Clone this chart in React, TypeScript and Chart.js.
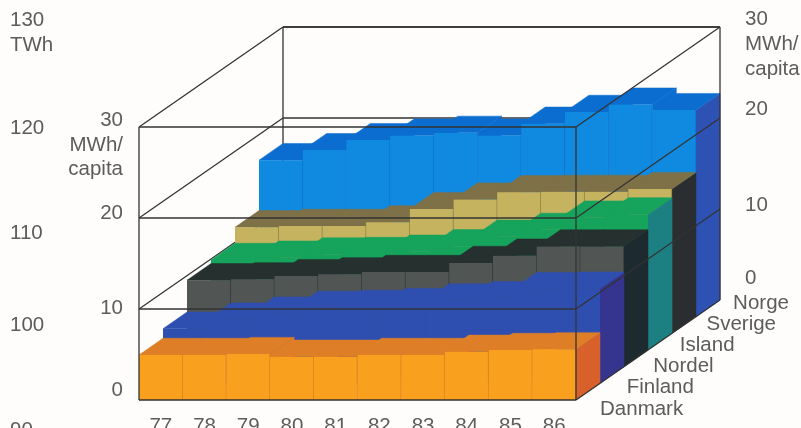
import React, { useEffect, useRef } from "react";
import { Chart, registerables } from "chart.js";

Chart.register(...registerables);

const years = ["77", "78", "79", "80", "81", "82", "83", "84", "85", "86"];

// MWh per capita. Front row first.
const danmark = [4.95, 4.95, 5.05, 4.75, 4.75, 4.95, 4.95, 5.3, 5.5, 5.57];
const finland = [6.0, 7.0, 7.65, 8.3, 8.4, 8.6, 9.1, 9.35, 10.35, 10.4];
const nordel = [9.5, 9.6, 9.95, 10.15, 10.4, 10.4, 11.4, 12.2, 13.2, 13.2];
const island = [9.9, 10.15, 10.5, 10.55, 10.8, 11.4, 12.45, 13.2, 14.55, 14.9];
const sverige = [11.66, 11.8, 11.8, 12.2, 13.65, 14.7, 15.5, 15.55, 15.55, 15.85];
const norge = [17.2, 18.3, 19.4, 19.9, 20.2, 19.9, 21.2, 22.5, 23.3, 22.7];

const seriesNames = ["Danmark", "Finland", "Nordel", "Island", "Sverige", "Norge"];
const seriesValues = [danmark, finland, nordel, island, sverige, norge];
const frontColors = ["#f9a11f", "#2f4fb0", "#515554", "#16a35c", "#c6b35f", "#0f8ae0"];
const edgeColors = ["#d9801c", "#2f4fb0", "#333a3a", "#16a35c", "#8f8240", "#0b74cc"];
const topColors = ["#de7f28", "#2f4fb0", "#25302f", "#16a35c", "#7e7047", "#0a6dcf"];
const sideColors = ["#d8602a", "#35348e", "#1d2a30", "#1c7f82", "#2b2e30", "#2e52b4"];

// Printed scales. The scan's labels sit unevenly, so each has its own read-off spot.
const twhLabels: (string | string[])[] = [["130", "TWh"], "120", "110", "100", "90"];
const twhSpots = [130, 120.4, 109.8, 100.5, 90];
const frontLabels: (string | string[])[] = ["0", "10", "20", ["30", "MWh/", "capita"]];
const frontSpots = [1.1, 10.1, 20.55, 28.0];
const backLabels: (string | string[])[] = ["0", "10", "20", ["30", "MWh/", "capita"]];
const backSpots = [2.4, 10.4, 20.9, 28.1];

const FONT = { family: "'Liberation Sans', Arial, sans-serif", size: 20.5 };
const INK = "#5c5c5c";
const LINE = "#333333";

// View geometry
const BAR_PX = 43.7;
const UNIT_PX = 9.1;
const AREA_W = 740;
const AREA_H = 412;
const LEFT_PX = 139;
const FLOOR_PX = 400;
const DEPTH_X = 24 / BAR_PX; // one row of depth, in x units
const DEPTH_Y = 16.67 / UNIT_PX; // one row of depth, in y units
const ROWS = seriesNames.length;
const BOX_TOP = 30;

const fitWidth = (w: number) => (s: any) => {
  s.width = w;
  s.paddingLeft = s.paddingRight = s.paddingTop = s.paddingBottom = 0;
};
const fitHeight = (h: number) => (s: any) => {
  s.height = h;
  s.paddingLeft = s.paddingRight = s.paddingTop = s.paddingBottom = 0;
};

const polygon = (ctx: CanvasRenderingContext2D, pts: number[][], color: string) => {
  ctx.beginPath();
  pts.forEach((p, i) => (i ? ctx.lineTo(p[0], p[1]) : ctx.moveTo(p[0], p[1])));
  ctx.closePath();
  ctx.fillStyle = color;
  ctx.strokeStyle = color;
  ctx.lineWidth = 0.5;
  ctx.fill();
  ctx.stroke();
};

const facesPlugin = {
  id: "faces",
  beforeDatasetDraw(chart: any, args: any) {
    const row = args.index;
    const values = seriesValues[row];
    const { x, y } = chart.scales;
    const ctx = chart.ctx;
    const base = row * DEPTH_Y;
    const yb = y.getPixelForValue(base);
    const dyp = yb - y.getPixelForValue(base + DEPTH_Y);
    const dxp = x.getPixelForValue(DEPTH_X) - x.getPixelForValue(0);
    ctx.save();
    values.forEach((v, i) => {
      const xl = x.getPixelForValue(i + row * DEPTH_X);
      const xr = x.getPixelForValue(i + 1 + row * DEPTH_X);
      const yt = y.getPixelForValue(base + v);
      // only the last bar's end wall takes the side colour; inner risers read as top
      const wall = i === values.length - 1 ? sideColors[row] : topColors[row];
      polygon(ctx, [[xr, yt], [xr + dxp, yt - dyp], [xr + dxp, yb - dyp], [xr, yb]], wall);
      polygon(ctx, [[xl, yt], [xr, yt], [xr + dxp, yt - dyp], [xl + dxp, yt - dyp]], topColors[row]);
    });
    ctx.restore();
  },
};

const segment = (chart: any, a: number[], b: number[]) => {
  const { x, y } = chart.scales;
  const ctx = chart.ctx;
  ctx.beginPath();
  ctx.moveTo(x.getPixelForValue(a[0]), y.getPixelForValue(a[1]));
  ctx.lineTo(x.getPixelForValue(b[0]), y.getPixelForValue(b[1]));
  ctx.stroke();
};

const boxDX = ROWS * DEPTH_X;
const boxDY = ROWS * DEPTH_Y;
const levels = [0, 10, 20, 30];
const n = years.length;

const wirePlugin = {
  id: "wire",
  beforeDatasetsDraw(chart: any) {
    const ctx = chart.ctx;
    ctx.save();
    ctx.strokeStyle = LINE;
    ctx.lineWidth = 1.3;
    segment(chart, [boxDX, boxDY], [boxDX, boxDY + BOX_TOP]);
    levels.forEach((l) => {
      segment(chart, [boxDX, boxDY + l], [boxDX + n, boxDY + l]);
      segment(chart, [0, l], [boxDX, boxDY + l]);
    });
    ctx.restore();
  },
  afterDatasetsDraw(chart: any) {
    const { x, y } = chart.scales;
    const ctx = chart.ctx;
    ctx.save();
    ctx.strokeStyle = LINE;
    ctx.lineWidth = 1.3;
    segment(chart, [0, 0], [0, BOX_TOP]);
    segment(chart, [n, 0], [n, BOX_TOP]);
    segment(chart, [boxDX + n, boxDY], [boxDX + n, boxDY + BOX_TOP]);
    segment(chart, [boxDX, boxDY + BOX_TOP], [boxDX + n, boxDY + BOX_TOP]);
    levels.forEach((l) => {
      segment(chart, [0, l], [n, l]);
      segment(chart, [n, l], [boxDX + n, boxDY + l]);
    });
    // depth-axis names, stepping up to the right of the floor's edge
    ctx.font = `${FONT.size}px ${FONT.family}`;
    ctx.fillStyle = INK;
    ctx.textAlign = "left";
    ctx.textBaseline = "middle";
    seriesNames.forEach((name, row) => {
      ctx.fillText(name, x.getPixelForValue(10.55 + row * 0.609), y.getPixelForValue(-0.99 + row * 2.33));
    });
    ctx.restore();
  },
};

export default function App() {
  const ref = useRef<HTMLCanvasElement>(null);

  useEffect(() => {
    const chart = new Chart(ref.current as HTMLCanvasElement, {
      type: "bar",
      plugins: [facesPlugin, wirePlugin],
      data: {
        datasets: seriesValues.map((values, row) => ({
          label: seriesNames[row],
          data: values.map((v, i) => ({
            x: i + 0.5 + row * DEPTH_X,
            y: [row * DEPTH_Y, row * DEPTH_Y + v],
          })),
          xAxisID: "x",
          yAxisID: "y",
          grouped: false,
          barThickness: BAR_PX,
          backgroundColor: frontColors[row],
          borderColor: edgeColors[row],
          borderWidth: { left: 0, right: 1, top: 0, bottom: 0 },
          borderSkipped: false,
        })) as any,
      },
      options: {
        animation: false,
        responsive: false,
        layout: { autoPadding: false, padding: 0 },
        plugins: { legend: { display: false }, tooltip: { enabled: false } },
        scales: {
          x: {
            type: "linear",
            position: "bottom",
            offset: false,
            min: -LEFT_PX / BAR_PX,
            max: (AREA_W - LEFT_PX) / BAR_PX,
            grid: { display: false, drawTicks: false, offset: false },
            border: { display: false },
            afterBuildTicks: (s: any) => {
              s.ticks = years.map((_, i) => ({ value: i + 0.5 }));
            },
            afterFit: fitHeight(428 - AREA_H),
            ticks: {
              autoSkip: false,
              maxRotation: 0,
              padding: 2,
              font: FONT,
              color: INK,
              callback: (_v: any, i: number) => years[i],
            },
          },
          y: {
            type: "linear",
            display: false,
            min: (FLOOR_PX - AREA_H) / UNIT_PX,
            max: FLOOR_PX / UNIT_PX,
          },
          twh: {
            type: "linear",
            axis: "y",
            position: "left",
            min: 91.81,
            max: 133.325,
            grid: { display: false, drawTicks: false },
            border: { display: false },
            afterBuildTicks: (s: any) => {
              s.ticks = twhSpots.map((value) => ({ value }));
            },
            afterFit: fitWidth(0),
            ticks: {
              mirror: true,
              padding: 10,
              autoSkip: false,
              font: FONT,
              color: INK,
              callback: (_v: any, i: number) => twhLabels[i],
            },
          },
          front: {
            type: "linear",
            axis: "y",
            position: { x: -0.366 },
            min: (FLOOR_PX - AREA_H) / UNIT_PX,
            max: FLOOR_PX / UNIT_PX,
            grid: { display: false, drawTicks: false },
            border: { display: false },
            afterBuildTicks: (s: any) => {
              s.ticks = frontSpots.map((value) => ({ value }));
            },
            afterFit: fitWidth(0),
            ticks: {
              padding: 0,
              autoSkip: false,
              font: FONT,
              color: INK,
              callback: (_v: any, i: number) => frontLabels[i],
            },
          },
          back: {
            type: "linear",
            axis: "y",
            position: "right",
            min: (300 - AREA_H) / UNIT_PX,
            max: 300 / UNIT_PX,
            grid: { display: false, drawTicks: false },
            border: { display: false },
            afterBuildTicks: (s: any) => {
              s.ticks = backSpots.map((value) => ({ value }));
            },
            afterFit: fitWidth(801 - AREA_W),
            ticks: {
              padding: 5,
              autoSkip: false,
              font: FONT,
              color: INK,
              callback: (_v: any, i: number) => backLabels[i],
            },
          },
        } as any,
      },
    });
    return () => chart.destroy();
  }, []);

  return (
    <canvas
      ref={ref}
      width={801}
      height={428}
      style={{ position: "absolute", left: 0, top: 0, background: "#fefdfb" }}
    />
  );
}
